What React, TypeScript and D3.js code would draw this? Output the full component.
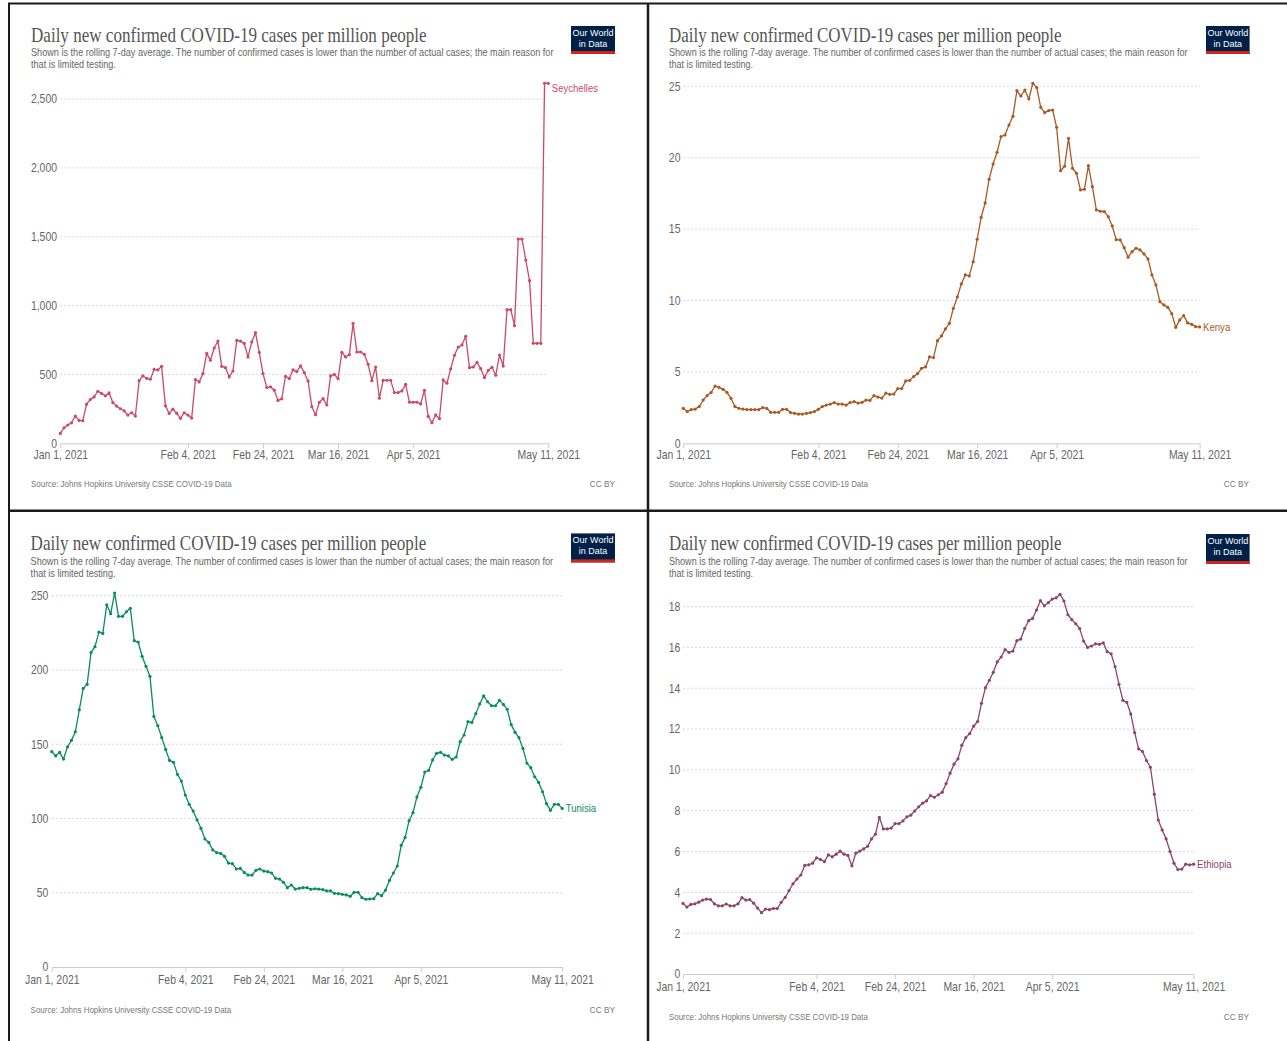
import React, { useRef, useEffect } from 'react';
import * as d3 from 'd3';

const startDate = '2021-01-01';
const tickDates = ['2021-01-01', '2021-02-04', '2021-02-24', '2021-03-16', '2021-04-05', '2021-05-11'];
const tickLabels = ['Jan 1, 2021', 'Feb 4, 2021', 'Feb 24, 2021', 'Mar 16, 2021', 'Apr 5, 2021', 'May 11, 2021'];

// daily rolling 7-day averages, Jan 1 - May 11 2021
const seychelles = [
  72, 113, 133, 149, 198, 166, 164, 284, 318, 337,
  378, 362, 345, 366, 296, 270, 251, 236, 205, 222,
  198, 455, 489, 472, 465, 537, 533, 559, 272, 217,
  248, 219, 181, 222, 205, 183, 463, 446, 506, 653,
  603, 692, 742, 559, 549, 482, 525, 747, 742, 725,
  627, 735, 803, 660, 506, 405, 410, 386, 311, 323,
  487, 470, 533, 521, 562, 513, 453, 266, 208, 298,
  324, 278, 489, 501, 469, 661, 627, 644, 871, 663,
  663, 646, 574, 455, 554, 327, 457, 457, 457, 368,
  368, 380, 428, 298, 298, 298, 286, 385, 196, 150,
  206, 179, 460, 436, 540, 639, 699, 714, 777, 549,
  554, 588, 542, 477, 530, 552, 494, 641, 561, 970,
  970, 854, 1483, 1483, 1331, 1181, 726, 726, 726, 2614,
  2614,
];

const kenya = [
  2.45, 2.22, 2.36, 2.4, 2.57, 3.03, 3.34, 3.55, 4.01, 3.92,
  3.78, 3.57, 3.15, 2.57, 2.45, 2.4, 2.36, 2.36, 2.36, 2.36,
  2.5, 2.45, 2.17, 2.17, 2.17, 2.38, 2.38, 2.15, 2.1, 2.05,
  2.05, 2.1, 2.15, 2.22, 2.38, 2.57, 2.68, 2.75, 2.85, 2.75,
  2.75, 2.68, 2.85, 2.92, 2.82, 2.87, 3.03, 3.0, 3.34, 3.24,
  3.17, 3.52, 3.43, 3.45, 3.83, 3.83, 4.37, 4.41, 4.67, 4.88,
  5.25, 5.35, 6.05, 6.0, 7.19, 7.52, 8.01, 8.4, 9.45, 10.25,
  11.16, 11.79, 11.72, 12.72, 14.29, 15.83, 16.83, 18.49, 19.56, 20.38,
  21.48, 21.59, 22.29, 22.9, 24.7, 24.32, 24.74, 24.11, 25.21, 24.91,
  23.53, 23.16, 23.3, 23.34, 22.13, 19.09, 19.4, 21.36, 19.26, 18.91,
  17.74, 17.79, 19.44, 17.97, 16.34, 16.25, 16.22, 15.87, 15.22, 14.26,
  14.24, 13.7, 13.03, 13.42, 13.66, 13.54, 13.26, 12.91, 11.79, 11.09,
  9.92, 9.69, 9.52, 9.08, 8.12, 8.64, 8.94, 8.43, 8.33, 8.17,
  8.15,
];

const tunisia = [
  145.0, 142.1, 144.5, 140.0, 148.3, 152.6, 158.4, 173.2, 187.6, 190.3,
  211.8, 215.7, 225.5, 224.6, 243.9, 237.9, 251.8, 236.1, 236.1, 239.2,
  241.5, 219.7, 218.8, 209.2, 202.4, 195.7, 168.6, 162.5, 154.5, 146.5,
  139.1, 137.8, 129.7, 125.2, 115.8, 109.5, 105.0, 99.0, 93.4, 86.2,
  83.9, 78.8, 77.0, 76.5, 74.5, 70.0, 69.6, 66.0, 66.4, 63.7,
  61.9, 61.9, 65.1, 66.0, 64.6, 64.2, 63.3, 59.7, 59.2, 57.0,
  53.4, 55.2, 52.5, 53.0, 53.4, 53.4, 52.3, 52.7, 52.5, 52.1,
  51.2, 51.2, 49.6, 49.4, 48.9, 48.5, 47.6, 50.3, 50.3, 46.7,
  45.6, 45.8, 46.0, 49.4, 48.0, 51.8, 58.3, 63.3, 68.0, 81.9,
  87.3, 98.5, 103.9, 114.5, 121.0, 131.3, 132.4, 139.4, 143.9, 144.5,
  142.7, 142.1, 139.8, 141.4, 151.7, 156.2, 165.2, 164.7, 170.6, 177.1,
  182.5, 178.6, 175.9, 175.9, 179.5, 176.8, 173.5, 163.2, 158.0, 154.4,
  147.2, 137.3, 134.2, 128.1, 124.3, 118.0, 110.0, 105.5, 109.5, 109.5,
  106.8,
];

const ethiopia = [
  3.46, 3.28, 3.41, 3.44, 3.52, 3.62, 3.67, 3.65, 3.44, 3.34,
  3.34, 3.43, 3.34, 3.34, 3.44, 3.74, 3.62, 3.64, 3.47, 3.23,
  3.0, 3.18, 3.15, 3.21, 3.21, 3.51, 3.75, 4.08, 4.42, 4.65,
  4.85, 5.32, 5.35, 5.43, 5.69, 5.61, 5.51, 5.84, 5.74, 5.87,
  6.02, 5.87, 5.81, 5.3, 5.92, 6.02, 6.13, 6.26, 6.62, 6.85,
  7.68, 7.11, 7.11, 7.15, 7.37, 7.37, 7.5, 7.7, 7.78, 7.99,
  8.19, 8.37, 8.48, 8.74, 8.66, 8.78, 8.91, 9.33, 9.84, 10.28,
  10.54, 11.21, 11.58, 11.78, 12.14, 12.37, 13.26, 14.03, 14.39, 14.78,
  15.29, 15.53, 15.89, 15.76, 15.82, 16.33, 16.41, 16.93, 17.31, 17.42,
  17.83, 18.29, 18.04, 18.19, 18.37, 18.43, 18.6, 18.27, 17.6, 17.36,
  17.16, 16.92, 16.31, 16.0, 16.07, 16.17, 16.15, 16.22, 15.79, 15.69,
  15.06, 14.19, 13.41, 13.31, 12.74, 11.83, 11.03, 10.9, 10.46, 10.13,
  8.81, 7.54, 7.06, 6.62, 6.0, 5.43, 5.12, 5.14, 5.38, 5.35,
  5.38,
];

const seychellesTicks = [0, 500, 1000, 1500, 2000, 2500];
const kenyaTicks = [0, 5, 10, 15, 20, 25];
const tunisiaTicks = [0, 50, 100, 150, 200, 250];
const ethiopiaTicks = [0, 2, 4, 6, 8, 10, 12, 14, 16, 18];

const title = 'Daily new confirmed COVID-19 cases per million people';
const subtitle1 =
  'Shown is the rolling 7-day average. The number of confirmed cases is lower than the number of actual cases; the main reason for';
const subtitle2 = 'that is limited testing.';
const source = 'Source: Johns Hopkins University CSSE COVID-19 Data';
const logoLines = ['Our World', 'in Data'];

const serif = '"Liberation Serif", "Times New Roman", serif';
const sans = '"Liberation Sans", Arial, sans-serif';
const squeeze = 0.87;

// layout of the four screenshots
const panels = [
  {
    name: 'Seychelles', values: seychelles, ticks: seychellesTicks, color: '#CC4A66',
    textX: 31, titleY: 41.7, sub1Y: 55.8, sub2Y: 68, titleW: 396, sub1W: 523, sub2W: 85, srcW: 201,
    logo: { x: 571, y: 26, w: 44, h: 28 },
    x0: 60.3, x1: 548.3, yZero: 443.3, yTop: 99,
    yLabelX: 56.5, xLabelY: 459, sourceY: 486.5, ccRight: 615, labelDy: 4.7,
  },
  {
    name: 'Kenya', values: kenya, ticks: kenyaTicks, color: '#A95A24',
    textX: 669, titleY: 41.7, sub1Y: 55.8, sub2Y: 68, titleW: 393, sub1W: 519, sub2W: 84, srcW: 199,
    logo: { x: 1206, y: 26, w: 43.6, h: 28 },
    x0: 683.3, x1: 1199.6, yZero: 443.3, yTop: 86.3,
    yLabelX: 680, xLabelY: 459, sourceY: 486.5, ccRight: 1249, labelDy: 0,
  },
  {
    name: 'Tunisia', values: tunisia, ticks: tunisiaTicks, color: '#0A8C62',
    textX: 30.6, titleY: 549.8, sub1Y: 564.5, sub2Y: 577.1, titleW: 396, sub1W: 523, sub2W: 85, srcW: 201,
    logo: { x: 571, y: 533.4, w: 44, h: 29 },
    x0: 51.8, x1: 562.2, yZero: 967, yTop: 595.7,
    yLabelX: 47.8, xLabelY: 983.5, sourceY: 1012.5, ccRight: 615, labelDy: 0,
  },
  {
    name: 'Ethiopia', values: ethiopia, ticks: ethiopiaTicks, color: '#8C4569',
    textX: 669, titleY: 549.8, sub1Y: 564.5, sub2Y: 577.1, titleW: 393, sub1W: 519, sub2W: 84, srcW: 199,
    logo: { x: 1206, y: 534, w: 43.6, h: 30 },
    x0: 683, x1: 1193.6, yZero: 974, yTop: 606.6,
    yLabelX: 680, xLabelY: 991, sourceY: 1020, ccRight: 1249, labelDy: 0,
  },
];

// squeeze a text horizontally so that it spans exactly w pixels
const fitText = (sel: any, x: number, y: number, w: number) => {
  const len = (sel.node() as SVGTextElement).getComputedTextLength() || w;
  sel.attr('transform', `translate(${x},${y}) scale(${w / len},1)`);
};

const App = () => {
  const chartRef = useRef<SVGSVGElement>(null);

  useEffect(() => {
    const svg = d3.select(chartRef.current);
    svg.selectAll('*').remove();

    const parse = d3.utcParse('%Y-%m-%d');
    const start = parse(startDate) as Date;
    const tickDays = tickDates.map((d) => parse(d) as Date);

    svg.append('rect').attr('width', 1287).attr('height', 1041).attr('fill', '#fff');

    panels.forEach((p) => {
      const g = svg.append('g');
      const dates = p.values.map((_, i) => d3.utcDay.offset(start, i));

      const x = d3.scaleUtc().domain([start, tickDays[tickDays.length - 1]]).range([p.x0, p.x1]);
      const y = d3
        .scaleLinear()
        .domain([0, p.ticks[p.ticks.length - 1]])
        .range([p.yZero, p.yTop]);

      // header
      const t1 = g.append('text')
        .attr('font-family', serif).attr('font-size', 20).attr('fill', '#555')
        .text(title);
      fitText(t1, p.textX, p.titleY, p.titleW);
      const s1 = g.append('text')
        .attr('font-family', sans).attr('font-size', 10.5).attr('fill', '#666')
        .text(subtitle1);
      fitText(s1, p.textX, p.sub1Y, p.sub1W);
      const s2 = g.append('text')
        .attr('font-family', sans).attr('font-size', 10.5).attr('fill', '#666')
        .text(subtitle2);
      fitText(s2, p.textX, p.sub2Y, p.sub2W);

      // logo
      const lg = g.append('g').attr('transform', `translate(${p.logo.x},${p.logo.y})`);
      lg.append('rect').attr('width', p.logo.w).attr('height', p.logo.h).attr('fill', '#002147');
      lg.append('rect').attr('y', p.logo.h - 3).attr('width', p.logo.w).attr('height', 3).attr('fill', '#CE261E');
      logoLines.forEach((t, i) => {
        lg.append('text')
          .attr('x', p.logo.w / 2)
          .attr('y', 10 + i * 11)
          .attr('text-anchor', 'middle')
          .attr('font-family', sans).attr('font-size', 9).attr('fill', '#fff')
          .text(t);
      });

      // grid
      g.selectAll('.grid')
        .data(p.ticks.filter((t) => t > 0))
        .enter()
        .append('line')
        .attr('x1', p.x0).attr('x2', p.x1)
        .attr('y1', (d) => y(d)).attr('y2', (d) => y(d))
        .attr('stroke', '#d6d6d6')
        .attr('stroke-dasharray', '2,2');

      // y axis
      const yAxis = d3.axisLeft(y).tickValues(p.ticks).tickSize(0).tickPadding(p.x0 - p.yLabelX)
        .tickFormat((d) => d3.format(',')(d as number));
      const ya = g.append('g').attr('transform', `translate(${p.x0},0)`).call(yAxis);
      ya.select('.domain').remove();
      ya.selectAll('text')
        .attr('font-family', sans).attr('font-size', 12).attr('fill', '#666')
        .attr('transform', `scale(${squeeze},1)`);

      // x axis
      const xAxis = d3.axisBottom(x).tickValues(tickDays).tickSize(5).tickSizeOuter(0)
        .tickPadding(p.xLabelY - p.yZero - 5 - 8.5)
        .tickFormat((_, i) => tickLabels[i]);
      const xa = g.append('g').attr('transform', `translate(0,${p.yZero})`).call(xAxis);
      xa.select('.domain').attr('stroke', '#ccc');
      xa.selectAll('line').attr('stroke', '#ccc');
      xa.selectAll('text')
        .attr('font-family', sans).attr('font-size', 12).attr('fill', '#666')
        .attr('transform', `scale(${squeeze},1)`);

      // series
      const line = d3.line<number>().x((_, i) => x(dates[i])).y((d) => y(d));
      g.append('path')
        .datum(p.values)
        .attr('d', line)
        .attr('fill', 'none')
        .attr('stroke', p.color)
        .attr('stroke-width', 1.3)
        .attr('stroke-linejoin', 'round');
      g.selectAll('.dot')
        .data(p.values)
        .enter()
        .append('circle')
        .attr('cx', (_, i) => x(dates[i]))
        .attr('cy', (d) => y(d))
        .attr('r', 1.6)
        .attr('fill', p.color);

      const last = p.values[p.values.length - 1];
      g.append('text')
        .attr('transform', `translate(${p.x1 + 3.5},${y(last) + p.labelDy}) scale(${squeeze},1)`)
        .attr('dy', '0.35em')
        .attr('font-family', sans).attr('font-size', 11).attr('fill', p.color)
        .text(p.name);

      // footer
      const src = g.append('text')
        .attr('font-family', sans).attr('font-size', 9).attr('fill', '#777')
        .text(source);
      fitText(src, p.textX, p.sourceY, p.srcW);
      g.append('text')
        .attr('transform', `translate(${p.ccRight},${p.sourceY}) scale(${squeeze},1)`)
        .attr('text-anchor', 'end')
        .attr('font-family', sans).attr('font-size', 9.5).attr('fill', '#777')
        .text('CC BY');
    });

    // black frame around the screenshots
    const frame = [
      [8, 3.5, 1287, 3.5, 2],
      [9, 3, 9, 1041, 2],
      [648, 3, 648, 1041, 2.5],
      [8, 510.7, 1287, 510.7, 2.5],
    ];
    svg.selectAll('.frame')
      .data(frame)
      .enter()
      .append('line')
      .attr('x1', (d) => d[0]).attr('y1', (d) => d[1])
      .attr('x2', (d) => d[2]).attr('y2', (d) => d[3])
      .attr('stroke', '#1a1a1a')
      .attr('stroke-width', (d) => d[4]);
  }, []);

  return (
    <svg
      ref={chartRef}
      width={1287}
      height={1041}
      style={{ position: 'absolute', left: 0, top: 0, display: 'block' }}
    ></svg>
  );
};

export default App;
